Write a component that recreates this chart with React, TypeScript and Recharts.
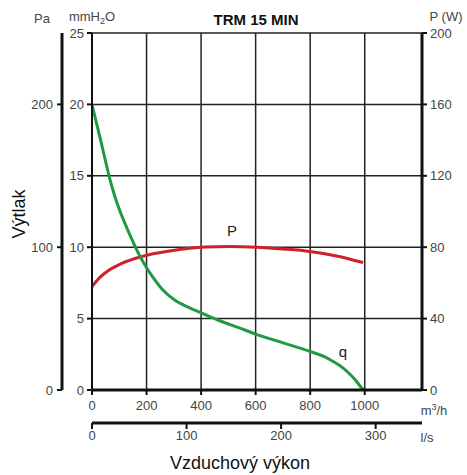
import React from 'react';
import { ComposedChart, Line, XAxis, YAxis, CartesianGrid, ReferenceDot } from 'recharts';

// axis ticks
const flowTicks = [0, 200, 400, 600, 800, 1000];
const litreTicks = [0, 100, 200, 300];
const mmTicks = [0, 5, 10, 15, 20, 25];
const paTicks = [0, 100, 200];
const wattTicks = [0, 40, 80, 120, 160, 200];

// q curve: flow (m3/h) -> pressure (mmH2O)
const qFlow = [0, 15, 34, 50, 65, 83, 101, 120, 138, 168, 199, 225, 260, 303, 352, 413, 469, 540, 603, 701, 799, 850, 884, 920, 945, 965, 980, 995];
const qPressure = [20, 18.8, 17.3, 16.0, 14.8, 13.6, 12.6, 11.7, 10.9, 9.65, 8.6, 7.85, 7.0, 6.3, 5.8, 5.3, 4.85, 4.35, 3.9, 3.3, 2.7, 2.35, 2.0, 1.55, 1.12, 0.72, 0.35, 0];

// P curve: flow (m3/h) -> power (W)
const pFlow = [0, 30, 59, 107, 181, 291, 413, 505, 603, 700, 799, 896, 994];
const pPower = [57.9, 63.2, 66.8, 70.8, 74.7, 78, 80.1, 80.4, 80, 79, 77.6, 75.1, 71.4];

const qData = qFlow.map((flow, i) => ({ flow, q: qPressure[i] }));
const pData = pFlow.map((flow, i) => ({ flow, p: pPower[i] }));
const litreData = litreTicks.map((ls) => ({ ls, base: 0 }));

const font = "'Liberation Sans', Arial, sans-serif";
const tickStyle = { fill: '#444', fontSize: 13, fontFamily: font };
const axisLine = { stroke: '#111', strokeWidth: 3 };
const tickLine = { stroke: '#111', strokeWidth: 2 };

const Txt: React.FC<{ x: number; y: number; style?: React.CSSProperties; children: React.ReactNode }> = ({ x, y, style, children }) => (
  <div
    style={{
      position: 'absolute',
      left: x,
      top: y,
      transform: 'translate(-50%, -50%)',
      whiteSpace: 'nowrap',
      fontFamily: font,
      lineHeight: 1,
      ...style,
    }}
  >
    {children}
  </div>
);

const App: React.FC = () => {
  return (
    <div style={{ position: 'absolute', left: 0, top: 0, width: 467, height: 475, background: '#fff' }}>
      <ComposedChart width={467} height={475} margin={{ top: 33, right: 0, bottom: 0, left: 0 }}>
        <CartesianGrid xAxisId="a_flow" yAxisId="mm" stroke="#222" strokeWidth={1.5} />
        <XAxis
          xAxisId="a_flow"
          dataKey="flow"
          type="number"
          domain={[0, 1210]}
          ticks={flowTicks}
          height={33}
          allowDataOverflow
          tick={tickStyle}
          tickSize={5}
          tickMargin={6}
          axisLine={axisLine}
          tickLine={tickLine}
        />
        <XAxis
          xAxisId="b_litre"
          dataKey="ls"
          type="number"
          domain={[0, 349]}
          ticks={litreTicks}
          height={52}
          allowDataOverflow
          tick={tickStyle}
          tickSize={6}
          tickMargin={2}
          axisLine={axisLine}
          tickLine={tickLine}
        />
        <YAxis
          yAxisId="mm"
          type="number"
          domain={[0, 25]}
          ticks={mmTicks}
          width={30}
          allowDataOverflow
          tick={tickStyle}
          tickSize={5}
          tickMargin={3}
          axisLine={{ stroke: '#111', strokeWidth: 2 }}
          tickLine={tickLine}
        />
        <YAxis
          yAxisId="pa"
          type="number"
          domain={[0, 250]}
          ticks={paTicks}
          width={62}
          allowDataOverflow
          tick={tickStyle}
          tickSize={5}
          tickMargin={4}
          axisLine={axisLine}
          tickLine={tickLine}
        />
        <YAxis
          yAxisId="w"
          orientation="right"
          type="number"
          domain={[0, 200]}
          ticks={wattTicks}
          width={45}
          allowDataOverflow
          tick={tickStyle}
          tickSize={5}
          tickMargin={3}
          axisLine={axisLine}
          tickLine={tickLine}
        />
        {/* invisible helper so the l/s axis has something to scale */}
        <Line
          data={litreData}
          xAxisId="b_litre"
          yAxisId="mm"
          dataKey="base"
          stroke="none"
          dot={false}
          activeDot={false}
          isAnimationActive={false}
        />
        <Line
          data={pData}
          xAxisId="a_flow"
          yAxisId="w"
          dataKey="p"
          type="monotone"
          stroke="#d0202c"
          strokeWidth={3}
          dot={false}
          isAnimationActive={false}
        />
        <Line
          data={qData}
          xAxisId="a_flow"
          yAxisId="mm"
          dataKey="q"
          type="monotone"
          stroke="#1e9a45"
          strokeWidth={3}
          dot={false}
          isAnimationActive={false}
        />
        <ReferenceDot
          xAxisId="a_flow"
          yAxisId="mm"
          x={513}
          y={11.14}
          r={0}
          fill="none"
          stroke="none"
          label={{ value: 'P', position: 'center', fill: '#222', fontSize: 15, fontFamily: font }}
        />
        <ReferenceDot
          xAxisId="a_flow"
          yAxisId="mm"
          x={920}
          y={2.66}
          r={0}
          fill="none"
          stroke="none"
          label={{ value: 'q', position: 'center', fill: '#222', fontSize: 15, fontFamily: font }}
        />
      </ComposedChart>

      <Txt x={42} y={18} style={{ fontSize: 13, color: '#444' }}>Pa</Txt>
      <Txt x={92} y={18} style={{ fontSize: 13, color: '#444' }}>
        mmH<sub style={{ fontSize: 9, verticalAlign: '-3px' }}>2</sub>O
      </Txt>
      <Txt x={256} y={19} style={{ fontSize: 15, fontWeight: 'bold', color: '#111' }}>TRM 15 MIN</Txt>
      <Txt x={446} y={16} style={{ fontSize: 13, color: '#444' }}>P (W)</Txt>
      <Txt x={434} y={410} style={{ fontSize: 13, color: '#444' }}>
        m<sup style={{ fontSize: 9, verticalAlign: '5px' }}>3</sup>/h
      </Txt>
      <Txt x={427} y={437} style={{ fontSize: 13, color: '#444' }}>l/s</Txt>
      <Txt x={240} y={463} style={{ fontSize: 18, color: '#111' }}>Vzduchový výkon</Txt>
      <Txt x={19} y={214} style={{ fontSize: 18, color: '#111', transform: 'translate(-50%, -50%) rotate(-90deg)' }}>
        Výtlak
      </Txt>
    </div>
  );
};

export default App;
